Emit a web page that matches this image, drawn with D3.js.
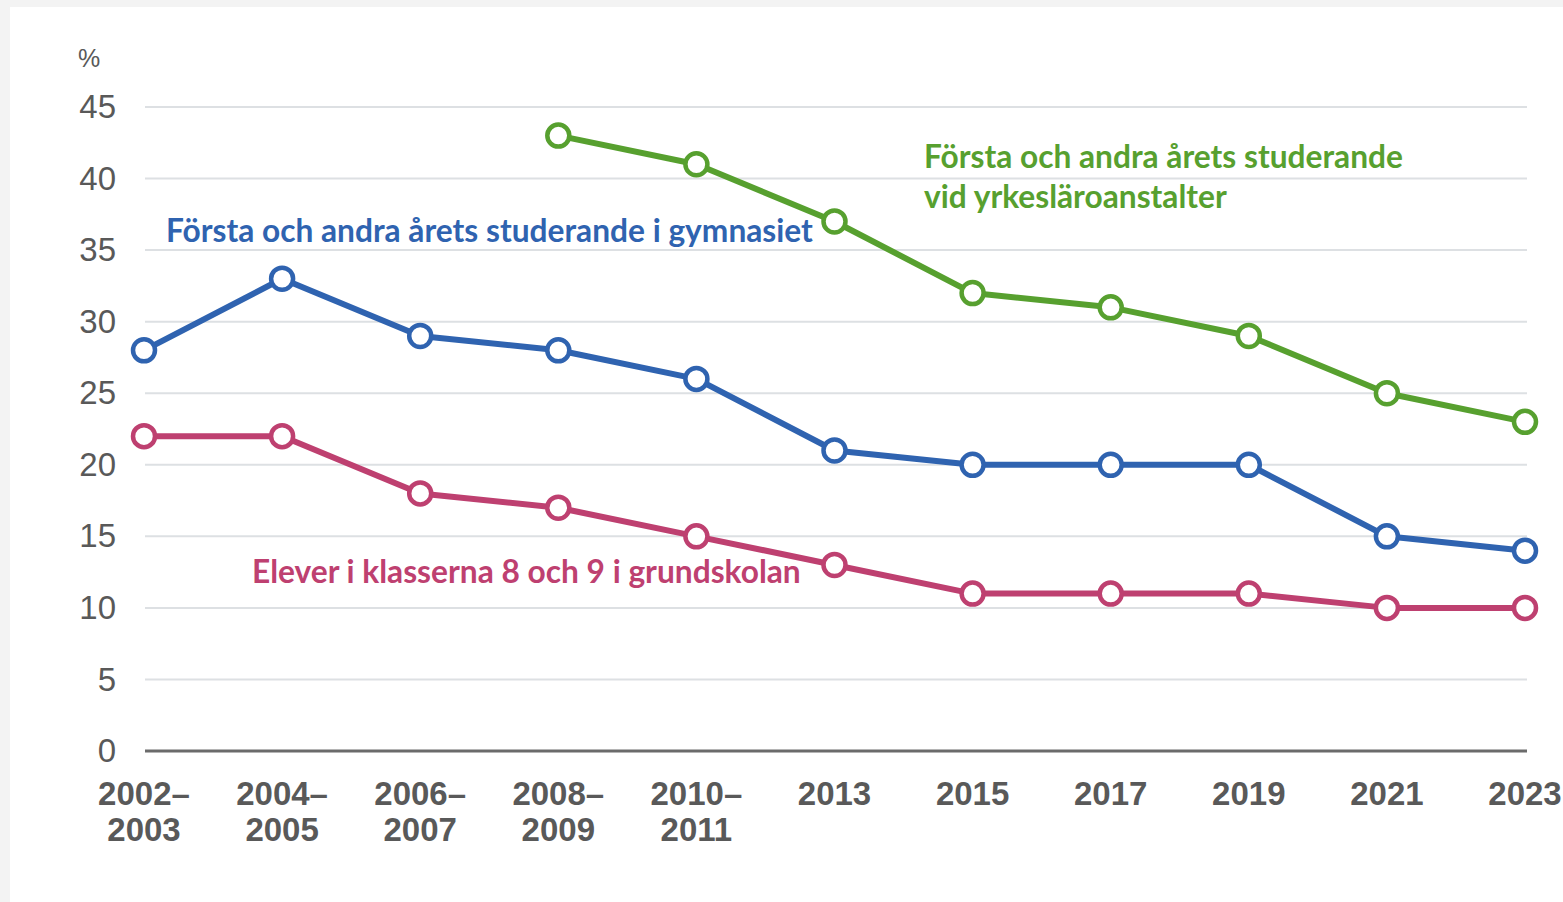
<!DOCTYPE html>
<html>
<head>
<meta charset="utf-8">
<script src="https://cdnjs.cloudflare.com/ajax/libs/d3/7.8.5/d3.min.js"></script>
<style>
  body { margin: 0; background: #f3f3f3; }
  svg { display: block; }
</style>
</head>
<body>
<div id="chart"></div>
<script>
// data
var categories = ["2002–\n2003", "2004–\n2005", "2006–\n2007", "2008–\n2009", "2010–\n2011",
                  "2013", "2015", "2017", "2019", "2021", "2023"];
var gymnasiet = [28, 33, 29, 28, 26, 21, 20, 20, 20, 15, 14];
var grundskolan = [22, 22, 18, 17, 15, 13, 11, 11, 11, 10, 10];
var yrkes = [null, null, null, 43, 41, 37, 32, 31, 29, 25, 23];
var yTicks = [0, 5, 10, 15, 20, 25, 30, 35, 40, 45];

var width = 1563, height = 902;

var svg = d3.select("#chart").append("svg")
  .attr("width", width)
  .attr("height", height);

// white panel
svg.append("rect")
  .attr("x", 10).attr("y", 7)
  .attr("width", width - 10).attr("height", height - 7)
  .attr("fill", "#fff");

var xScale = d3.scalePoint()
  .domain(d3.range(categories.length))
  .range([144, 1525]);

var yScale = d3.scaleLinear()
  .domain([0, 45])
  .range([751, 107]);

// gridlines
svg.append("g")
  .selectAll("line")
  .data(yTicks.filter(function(d) { return d > 0; }))
  .enter().append("line")
  .attr("x1", 145).attr("x2", 1527)
  .attr("y1", function(d) { return yScale(d); })
  .attr("y2", function(d) { return yScale(d); })
  .attr("stroke", "#dde0e3")
  .attr("stroke-width", 2);

// y axis labels
var yAxis = d3.axisLeft(yScale).tickValues(yTicks).tickSize(0).tickPadding(0);
var gy = svg.append("g")
  .attr("transform", "translate(116,0)")
  .call(yAxis);
gy.select(".domain").remove();
gy.selectAll("text")
  .attr("font-family", "Liberation Sans, Arial, sans-serif")
  .attr("font-size", 33)
  .attr("fill", "#595959");

svg.append("text")
  .attr("x", 78).attr("y", 67)
  .attr("font-family", "Liberation Sans, Arial, sans-serif")
  .attr("font-size", 25)
  .attr("fill", "#595959")
  .text("%");

// baseline
svg.append("line")
  .attr("x1", 145).attr("x2", 1527)
  .attr("y1", yScale(0)).attr("y2", yScale(0))
  .attr("stroke", "#6b6b6b")
  .attr("stroke-width", 3);

// x labels
var xLab = svg.append("g")
  .selectAll("text")
  .data(categories)
  .enter().append("text")
  .attr("x", function(d, i) { return xScale(i); })
  .attr("y", 805)
  .attr("text-anchor", "middle")
  .attr("font-family", "Liberation Sans, Arial, sans-serif")
  .attr("font-weight", "bold")
  .attr("font-size", 33)
  .attr("fill", "#595959");
xLab.each(function(d) {
  var t = d3.select(this);
  d.split("\n").forEach(function(part, k) {
    t.append("tspan")
      .attr("x", t.attr("x"))
      .attr("dy", k === 0 ? 0 : 36)
      .text(part);
  });
});

var series = [
  { values: yrkes, color: "#57a02f" },
  { values: gymnasiet, color: "#2f63b0" },
  { values: grundskolan, color: "#be4070" }
];

var line = d3.line()
  .defined(function(d) { return d != null; })
  .x(function(d, i) { return xScale(i); })
  .y(function(d) { return yScale(d); });

series.forEach(function(s) {
  svg.append("path")
    .datum(s.values)
    .attr("fill", "none")
    .attr("stroke", s.color)
    .attr("stroke-width", 6)
    .attr("stroke-linejoin", "round")
    .attr("d", line);

  svg.append("g")
    .selectAll("circle")
    .data(s.values.map(function(v, i) { return { v: v, i: i }; }).filter(function(d) { return d.v != null; }))
    .enter().append("circle")
    .attr("cx", function(d) { return xScale(d.i); })
    .attr("cy", function(d) { return yScale(d.v); })
    .attr("r", 11)
    .attr("fill", "#fff")
    .attr("stroke", s.color)
    .attr("stroke-width", 4.5);
});

// annotations
var labelFont = "Lato, Carlito, Calibri, sans-serif";
function note(x, y, txt, color) {
  svg.append("text")
    .attr("x", x).attr("y", y)
    .attr("font-family", labelFont)
    .attr("font-weight", "bold")
    .attr("font-size", 31.7)
    .attr("fill", color)
    .text(txt);
}
note(166, 242, "Första och andra årets studerande i gymnasiet", "#2f63b0");
note(924, 168, "Första och andra årets studerande", "#57a02f");
note(924, 208, "vid yrkesläroanstalter", "#57a02f");
note(252, 583, "Elever i klasserna 8 och 9 i grundskolan", "#be4070");
</script>
</body>
</html>
